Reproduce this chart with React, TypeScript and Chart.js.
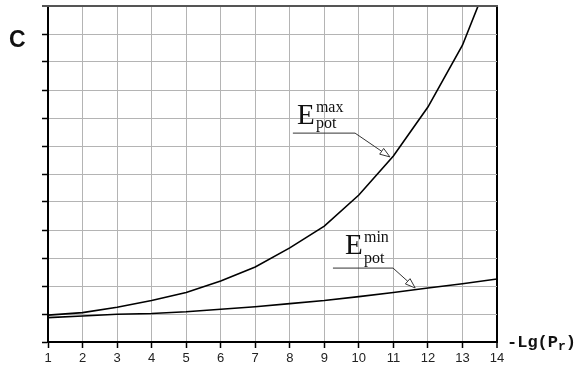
import React, { useEffect, useRef } from "react";
import { Chart, registerables } from "chart.js";

Chart.register(...registerables);

const xValues = [1, 2, 3, 4, 5, 6, 7, 8, 9, 10, 11, 12, 13, 14];
const eMaxValues = [0.96, 1.05, 1.24, 1.48, 1.77, 2.18, 2.68, 3.36, 4.14, 5.25, 6.64, 8.39, 10.6, 13.7];
const eMinValues = [0.87, 0.93, 0.99, 1.02, 1.08, 1.17, 1.26, 1.37, 1.48, 1.62, 1.77, 1.93, 2.08, 2.25];
const yLabel = "C";
const xLabelMain = "-Lg(P";
const xLabelSub = "r";
const annotations = [
  { sup: "max", sub: "pot", lineStart: [8.09, 7.46], lineEnd: [9.89, 7.46], tip: [10.9, 6.61], eDx: 4, eDy: -9, sDx: 23 },
  { sup: "min", sub: "pot", lineStart: [9.25, 2.64], lineEnd: [10.99, 2.64], tip: [11.63, 1.93], eDx: 12, eDy: -14, sDx: 31 },
];

const decorPlugin = {
  id: "decor",
  afterDraw(chart: any) {
    const ctx = chart.ctx;
    const xs = chart.scales.x;
    const ys = chart.scales.y;
    const area = chart.chartArea;
    ctx.save();
    // top border
    ctx.strokeStyle = "#555";
    ctx.lineWidth = 2;
    ctx.beginPath();
    ctx.moveTo(area.left - 6, area.top);
    ctx.lineTo(area.right + 1, area.top);
    ctx.stroke();

    // Y label
    ctx.fillStyle = "#111";
    ctx.font = "bold 23px 'Liberation Sans', Arial, sans-serif";
    ctx.textBaseline = "alphabetic";
    ctx.textAlign = "left";
    ctx.fillText(yLabel, 9, 47);

    // X label
    ctx.font = "bold 17px 'Liberation Mono', 'Courier New', monospace";
    const mainW = ctx.measureText(xLabelMain).width;
    const bx = area.right + 10;
    const by = area.bottom + 5;
    ctx.fillText(xLabelMain, bx, by);
    ctx.font = "bold 13px 'Liberation Mono', 'Courier New', monospace";
    const subW = ctx.measureText(xLabelSub).width;
    ctx.fillText(xLabelSub, bx + mainW, by + 3);
    ctx.font = "bold 17px 'Liberation Mono', 'Courier New', monospace";
    ctx.fillText(")", bx + mainW + subW, by);

    // annotations
    for (const a of annotations) {
      const sx = xs.getPixelForValue(a.lineStart[0]);
      const sy = ys.getPixelForValue(a.lineStart[1]);
      const ex = xs.getPixelForValue(a.lineEnd[0]);
      const tx = xs.getPixelForValue(a.tip[0]);
      const ty = ys.getPixelForValue(a.tip[1]);
      ctx.fillStyle = "#111";
      ctx.font = "29px 'Liberation Serif', 'Times New Roman', serif";
      ctx.fillText("E", sx + a.eDx, sy + a.eDy);
      ctx.font = "16px 'Liberation Serif', 'Times New Roman', serif";
      ctx.fillText(a.sup, sx + a.sDx, sy + a.eDy - 12);
      ctx.fillText(a.sub, sx + a.sDx, sy - 5);

      const ang = Math.atan2(ty - sy, tx - ex);
      const len = 10;
      const hw = 3.5;
      const baseX = tx - len * Math.cos(ang);
      const baseY = ty - len * Math.sin(ang);
      ctx.strokeStyle = "#333";
      ctx.lineWidth = 1;
      ctx.beginPath();
      ctx.moveTo(sx, sy);
      ctx.lineTo(ex, sy);
      ctx.lineTo(baseX, baseY);
      ctx.stroke();
      ctx.beginPath();
      ctx.moveTo(tx, ty);
      ctx.lineTo(baseX + hw * Math.sin(ang), baseY - hw * Math.cos(ang));
      ctx.lineTo(baseX - hw * Math.sin(ang), baseY + hw * Math.cos(ang));
      ctx.closePath();
      ctx.fillStyle = "#fff";
      ctx.fill();
      ctx.stroke();
    }
    ctx.restore();
  },
};

export default function App() {
  const ref = useRef<HTMLCanvasElement | null>(null);
  useEffect(() => {
    document.body.style.margin = "0";
    if (!ref.current) return;
    const chart = new Chart(ref.current, {
      type: "line",
      data: {
        datasets: [
          {
            label: "Emax",
            data: xValues.map((x, i) => ({ x, y: eMaxValues[i] })),
            borderColor: "#000",
            borderWidth: 1.6,
            pointRadius: 0,
            tension: 0,
          },
          {
            label: "Emin",
            data: xValues.map((x, i) => ({ x, y: eMinValues[i] })),
            borderColor: "#000",
            borderWidth: 1.6,
            pointRadius: 0,
            tension: 0,
          },
        ],
      },
      options: {
        animation: false,
        responsive: false,
        layout: { padding: { top: 6, right: 82, left: 0, bottom: 0 } },
        plugins: { legend: { display: false }, tooltip: { enabled: false } },
        scales: {
          x: {
            type: "linear",
            min: 1,
            max: 14,
            ticks: {
              stepSize: 1,
              color: "#222",
              font: { family: "'Liberation Sans', Arial, sans-serif", size: 13 },
              padding: 3,
            },
            grid: {
              color: (c: any) => (c.tick && c.tick.value === 14 ? "#000" : "#b4b4b4"),
              lineWidth: (c: any) => (c.tick && c.tick.value === 14 ? 2 : 1),
              tickColor: "#000",
              tickLength: 6,
              tickWidth: 1.5,
            },
            border: { color: "#000", width: 2 },
            afterFit: (s: any) => {
              s.height = 27;
            },
          },
          y: {
            type: "linear",
            min: 0,
            max: 12,
            ticks: { stepSize: 1, display: false },
            grid: {
              color: (c: any) => (c.tick && c.tick.value === 12 ? "#555" : "#b4b4b4"),
              lineWidth: (c: any) => (c.tick && c.tick.value === 12 ? 2 : 1),
              tickColor: "#000",
              tickLength: 6,
              tickWidth: 1.5,
            },
            border: { color: "#000", width: 2 },
            afterFit: (s: any) => {
              s.width = 48;
            },
          },
        },
      },
      plugins: [decorPlugin],
    });
    return () => chart.destroy();
  }, []);
  return (
    <div style={{ position: "absolute", left: 0, top: 0, width: 579, height: 369 }}>
      <canvas ref={ref} width={579} height={369} />
    </div>
  );
}
